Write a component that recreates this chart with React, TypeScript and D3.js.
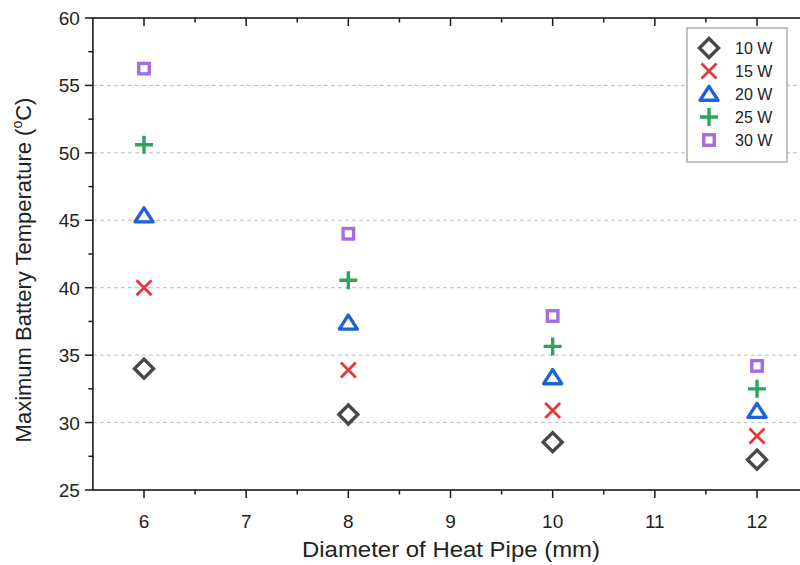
import React from "react";
import * as d3 from "d3";

const diameters = [6, 8, 10, 12];
const seriesNames = ["10 W", "15 W", "20 W", "25 W", "30 W"];
const temp10W = [34.0, 30.6, 28.55, 27.25];
const temp15W = [40.0, 33.9, 30.9, 29.0];
const temp20W = [45.35, 37.4, 33.35, 30.85];
const temp25W = [50.6, 40.55, 35.65, 32.5];
const temp30W = [56.25, 44.0, 37.9, 34.2];
const seriesValues = [temp10W, temp15W, temp20W, temp25W, temp30W];
const seriesColors = ["#474747", "#e8363c", "#1c63d9", "#2ea35c", "#a56ee0"];
const seriesShapes = ["diamond", "x", "triangle", "plus", "square"];
const xMajorTicks = [6, 7, 8, 9, 10, 11, 12];
const yMajorTicks = [25, 30, 35, 40, 45, 50, 55, 60];
const yGridTicks = [30, 35, 40, 45, 50, 55];

const W = 800;
const H = 565;

function Marker({ shape, color, cx, cy }: { shape: string; color: string; cx: number; cy: number }) {
  const sw = 3.4;
  if (shape === "diamond") {
    const r = 9.5;
    return (
      <path
        d={`M${cx},${cy - r}L${cx + r},${cy}L${cx},${cy + r}L${cx - r},${cy}Z`}
        fill="none"
        stroke={color}
        strokeWidth={sw}
        strokeLinejoin="miter"
      />
    );
  }
  if (shape === "x") {
    const r = 7.5;
    return (
      <path
        d={`M${cx - r},${cy - r}L${cx + r},${cy + r}M${cx - r},${cy + r}L${cx + r},${cy - r}`}
        stroke={color}
        strokeWidth={2.8}
        fill="none"
      />
    );
  }
  if (shape === "triangle") {
    const h = 14;
    const w = 18;
    return (
      <path
        d={`M${cx},${cy - h * 0.55}L${cx + w / 2},${cy + h * 0.45}L${cx - w / 2},${cy + h * 0.45}Z`}
        fill="none"
        stroke={color}
        strokeWidth={sw}
        strokeLinejoin="round"
      />
    );
  }
  if (shape === "plus") {
    const r = 9;
    return (
      <path
        d={`M${cx - r},${cy}L${cx + r},${cy}M${cx},${cy - r}L${cx},${cy + r}`}
        stroke={color}
        strokeWidth={3.4}
        fill="none"
      />
    );
  }
  const s = 10.5;
  return (
    <rect x={cx - s / 2} y={cy - s / 2} width={s} height={s} fill="none" stroke={color} strokeWidth={sw} />
  );
}

export default function App() {
  const x = d3.scaleLinear().domain([6, 12]).range([144, 757]);
  const y = d3.scaleLinear().domain([25, 60]).range([490, 18]);
  const left = x(5.5);
  const right = x(12.5);
  const top = y(60);
  const bottom = y(25);

  const xMinor = d3.range(6.5, 12.5, 1);
  const yMinor = d3.range(27.5, 60, 5);
  const axisColor = "#1a1a1a";
  const font = "Liberation Sans, Arial, sans-serif";

  return (
    <svg
      width={W}
      height={H}
      viewBox={`0 0 ${W} ${H}`}
      style={{ position: "absolute", left: 0, top: 0, background: "#fff" }}
      fontFamily={font}
    >
      <rect x={0} y={0} width={W} height={H} fill="#fff" />
      {yGridTicks.map((t) => (
        <line
          key={"g" + t}
          x1={left}
          x2={right}
          y1={y(t)}
          y2={y(t)}
          stroke="#bdbdbd"
          strokeWidth={1}
          strokeDasharray="4,3"
        />
      ))}
      <rect x={left} y={top} width={right - left} height={bottom - top} fill="none" stroke={axisColor} strokeWidth={1.6} />
      {xMajorTicks.map((t) => (
        <g key={"xt" + t}>
          <line x1={x(t)} x2={x(t)} y1={bottom} y2={bottom + 8} stroke={axisColor} strokeWidth={1.5} />
          <line x1={x(t)} x2={x(t)} y1={top} y2={top + 8} stroke={axisColor} strokeWidth={1.5} />
          <text x={x(t)} y={bottom + 38} textAnchor="middle" fontSize={19} fill="#222">
            {t}
          </text>
        </g>
      ))}
      {xMinor.map((t) => (
        <g key={"xm" + t}>
          <line x1={x(t)} x2={x(t)} y1={bottom} y2={bottom + 4.5} stroke={axisColor} strokeWidth={1.5} />
          <line x1={x(t)} x2={x(t)} y1={top} y2={top + 4.5} stroke={axisColor} strokeWidth={1.5} />
        </g>
      ))}
      {yMajorTicks.map((t) => (
        <g key={"yt" + t}>
          <line x1={left - 8} x2={left} y1={y(t)} y2={y(t)} stroke={axisColor} strokeWidth={1.5} />
          <line x1={right - 8} x2={right} y1={y(t)} y2={y(t)} stroke={axisColor} strokeWidth={1.5} />
          <text x={left - 13} y={y(t) + 7} textAnchor="end" fontSize={19} fill="#222">
            {t}
          </text>
        </g>
      ))}
      {yMinor.map((t) => (
        <g key={"ym" + t}>
          <line x1={left - 4.5} x2={left} y1={y(t)} y2={y(t)} stroke={axisColor} strokeWidth={1.5} />
          <line x1={right - 4.5} x2={right} y1={y(t)} y2={y(t)} stroke={axisColor} strokeWidth={1.5} />
        </g>
      ))}
      <text
        x={451}
        y={557}
        textAnchor="middle"
        fontSize={22}
        fill="#222"
        textLength={298}
        lengthAdjust="spacingAndGlyphs"
      >
        Diameter of Heat Pipe (mm)
      </text>
      <text
        transform={`translate(31,${(top + bottom) / 2 + 16}) rotate(-90)`}
        textAnchor="middle"
        fontSize={22}
        fill="#222"
      >
        Maximum Battery Temperature (
        <tspan fontSize={14} dy={-9}>
          o
        </tspan>
        <tspan dy={9}>C)</tspan>
      </text>
      {seriesValues.map((vals, si) =>
        vals.map((v, i) => (
          <Marker key={`m${si}-${i}`} shape={seriesShapes[si]} color={seriesColors[si]} cx={x(diameters[i])} cy={y(v)} />
        ))
      )}
      <g>
        <rect x={687} y={28} width={100} height={134} fill="#fff" stroke="#9a9a9a" strokeWidth={1.2} />
        {seriesNames.map((name, i) => (
          <g key={"l" + i}>
            <Marker shape={seriesShapes[i]} color={seriesColors[i]} cx={709} cy={48 + i * 23} />
            <text x={735} y={48 + i * 23 + 6} fontSize={16} fill="#222">
              {name}
            </text>
          </g>
        ))}
      </g>
    </svg>
  );
}
